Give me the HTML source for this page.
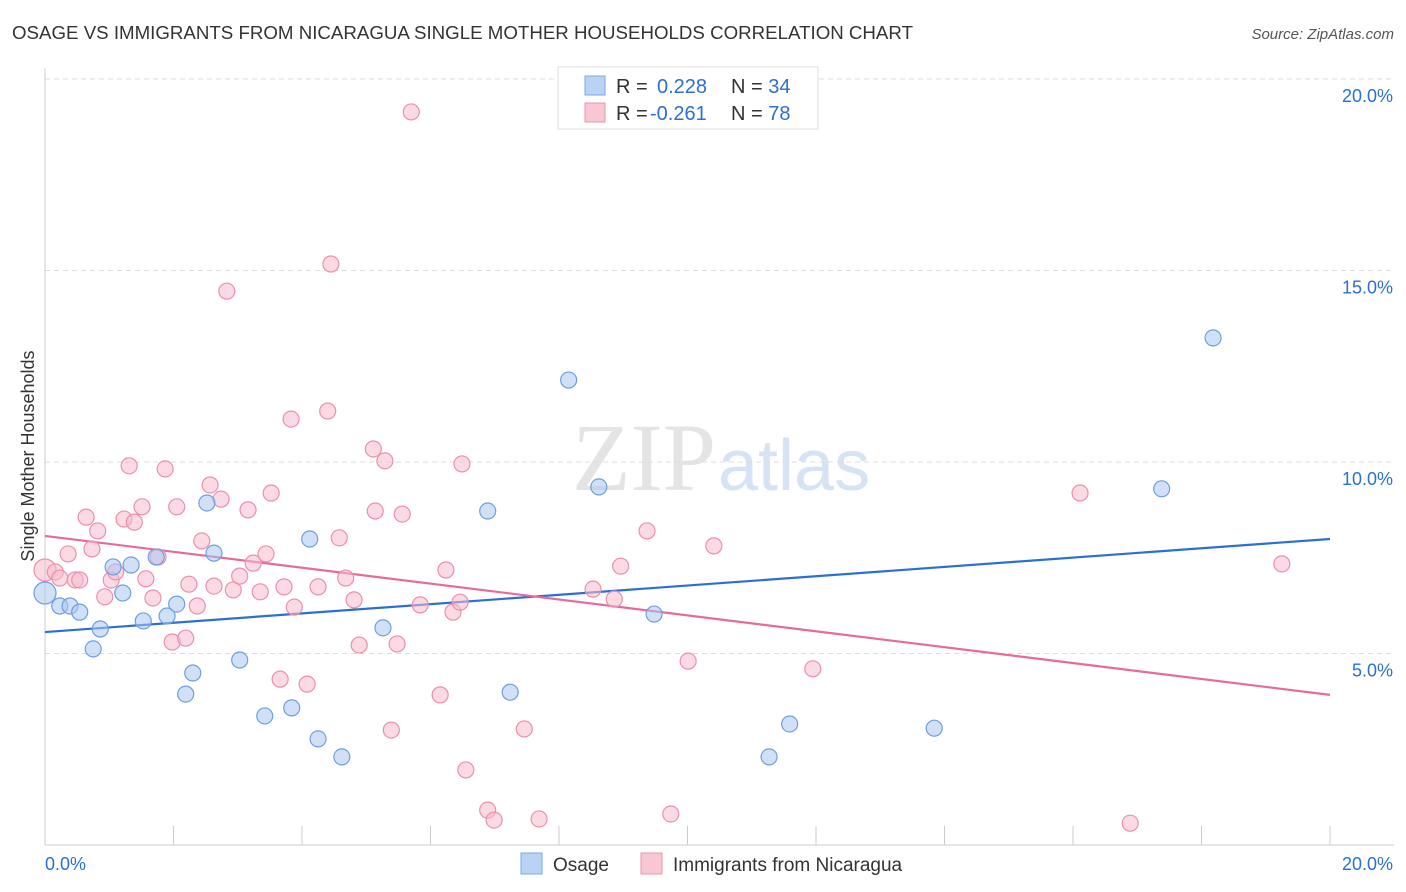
<!DOCTYPE html>
<html><head><meta charset="utf-8"><style>
body{margin:0;background:#fff;font-family:"Liberation Sans",sans-serif}
svg{display:block}
</style></head><body>
<svg id="c" width="1406" height="892">
<text x="12" y="39" font-size="18" fill="#333" textLength="901" lengthAdjust="spacingAndGlyphs">OSAGE VS IMMIGRANTS FROM NICARAGUA SINGLE MOTHER HOUSEHOLDS CORRELATION CHART</text>
<text x="1394" y="39" font-size="15" fill="#555" text-anchor="end" font-style="italic">Source: ZipAtlas.com</text>
<text x="716" y="490" font-size="96" fill="#e4e4e4" text-anchor="end" font-family="Liberation Serif,serif">ZIP</text>
<text x="718" y="490" font-size="72" fill="#d6e3f5">atlas</text>
<text transform="translate(34,456) rotate(-90)" font-size="18" fill="#333" text-anchor="middle">Single Mother Households</text>
<g id="grid"></g><g id="ticks"></g><g id="lines"></g><g id="pts"></g>
<g>
<rect x="558" y="67" width="260" height="62" fill="#fff" stroke="#ddd"/>
<rect x="585" y="76" width="20" height="19" fill="#b9d3f5" stroke="#7ea7e4"/>
<rect x="585" y="103" width="20" height="19" fill="#f9c6d4" stroke="#eb93ae"/>
<text x="616" y="93" font-size="20" fill="#333">R = <tspan fill="#2b6fd6" x="657">0.228</tspan><tspan x="731" fill="#333">N = </tspan><tspan fill="#2b6fd6">34</tspan></text>
<text x="616" y="120" font-size="20" fill="#333">R = <tspan fill="#2b6fd6" x="650">-0.261</tspan><tspan x="731" fill="#333">N = </tspan><tspan fill="#2b6fd6">78</tspan></text>
</g>
<g>
<rect x="521" y="853" width="21" height="21" fill="#b9d3f5" stroke="#7ea7e4"/>
<text x="553" y="871" font-size="19" fill="#333">Osage</text>
<rect x="641" y="853" width="21" height="21" fill="#f9c6d4" stroke="#eb93ae"/>
<text x="673" y="871" font-size="19" fill="#333">Immigrants from Nicaragua</text>
</g>
</svg>
<script>
const blueX=[0,.23,.39,.54,.75,.86,1.06,1.21,1.34,1.53,1.73,1.90,2.05,2.19,2.30,2.52,2.63,3.03,3.42,3.84,4.12,4.25,4.62,5.26,6.89,7.24,8.15,8.62,9.48,11.27,11.59,13.84,17.38,18.18];
const blueY=[6.58,6.24,6.24,6.08,5.12,5.64,7.26,6.58,7.31,5.85,7.52,5.98,6.29,3.94,4.49,8.93,7.62,4.83,3.37,3.58,7.99,2.77,2.30,5.67,8.72,3.99,12.14,9.35,6.03,2.30,3.16,3.05,9.30,13.24];
const pinkX=[0,.16,.23,.36,.47,.54,.64,.73,.82,.93,1.03,1.10,1.23,1.31,1.39,1.51,1.57,1.68,1.76,1.87,1.98,2.05,2.19,2.24,2.37,2.44,2.57,2.63,2.74,2.83,2.93,3.03,3.16,3.24,3.35,3.44,3.52,3.66,3.72,3.83,3.88,4.08,4.25,4.40,4.45,4.58,4.68,4.81,4.89,5.11,5.14,5.29,5.39,5.48,5.56,5.70,5.84,6.15,6.24,6.35,6.46,6.49,6.55,6.89,6.99,7.46,7.69,8.53,8.86,8.96,9.37,9.74,10.01,10.41,11.95,16.11,16.89,19.25];
const pinkY=[7.18,7.13,6.97,7.60,6.92,6.92,8.56,7.73,8.20,6.48,6.92,7.13,8.51,9.90,8.43,8.83,6.95,6.45,7.52,9.82,5.30,8.83,5.40,6.81,6.24,7.94,9.40,6.76,9.03,14.46,6.66,7.02,8.75,7.36,6.61,7.60,9.19,4.33,6.74,11.12,6.21,4.20,6.74,11.33,15.17,8.02,6.97,6.40,5.22,10.34,8.72,10.03,3.00,5.25,8.64,19.14,6.27,3.92,7.18,6.08,6.34,9.95,1.96,0.91,0.65,3.03,0.68,6.68,6.42,7.28,8.20,0.81,4.80,7.81,4.60,9.19,0.57,7.34];
const trendBlue=[5.56,7.99];
const trendPink=[8.07,3.92];
const yTicks=[5,10,15,20];
const xTickLabels=["0.0%","20.0%"];
const NS="http://www.w3.org/2000/svg";
const X=v=>45+v/20*1285, Y=v=>845-v*38.3;
function mk(t,a,p){const e=document.createElementNS(NS,t);for(const k in a)e.setAttribute(k,a[k]);document.getElementById(p).appendChild(e);return e;}
yTicks.forEach(t=>{
 const l=mk('line',{x1:45,x2:1394,y1:Y(t),y2:Y(t),stroke:'#ddd','stroke-dasharray':'5,4'},'grid');
 
 
 const tx=mk('text',{x:1393,y:Y(t)+23,'font-size':18,fill:'#2b6fd6','text-anchor':'end'},'grid');tx.textContent=t.toFixed(1)+'%';
 
 
});
mk('line',{x1:45,x2:45,y1:68,y2:845,stroke:'#ccc'},'ticks');
mk('line',{x1:45,x2:1394,y1:845,y2:845,stroke:'#ccc'},'ticks');
for(let k=1;k<=10;k++){mk('line',{x1:45+128.5*k,x2:45+128.5*k,y1:826,y2:845,stroke:'#ccc'},'ticks');}
const xl1=mk('text',{x:45,y:870,'font-size':18,fill:'#2b6fd6'},'ticks');xl1.textContent=xTickLabels[0];


const xl2=mk('text',{x:1393,y:870,'font-size':18,fill:'#2b6fd6','text-anchor':'end'},'ticks');xl2.textContent=xTickLabels[1];


function dots(xs,ys,f,s,n){xs.forEach((x,i)=>{const c=mk('circle',{cx:X(x),cy:Y(ys[i]),r:(i==0?11:8),fill:f,'fill-opacity':.55,stroke:s,'stroke-width':1.2},'pts');
 
 });}
dots(pinkX,pinkY,'#f7bccd','#ec8fac','nicaragua-point');
dots(blueX,blueY,'#aac8f0','#6f9ee0','osage-point');
const lb=mk('line',{x1:X(0),x2:X(20),y1:Y(trendBlue[0]),y2:Y(trendBlue[1]),stroke:'#2b6fd6','stroke-width':2.2},'lines');


const lp=mk('line',{x1:X(0),x2:X(20),y1:Y(trendPink[0]),y2:Y(trendPink[1]),stroke:'#e8699a','stroke-width':2.2},'lines');


</script>
</body></html>
